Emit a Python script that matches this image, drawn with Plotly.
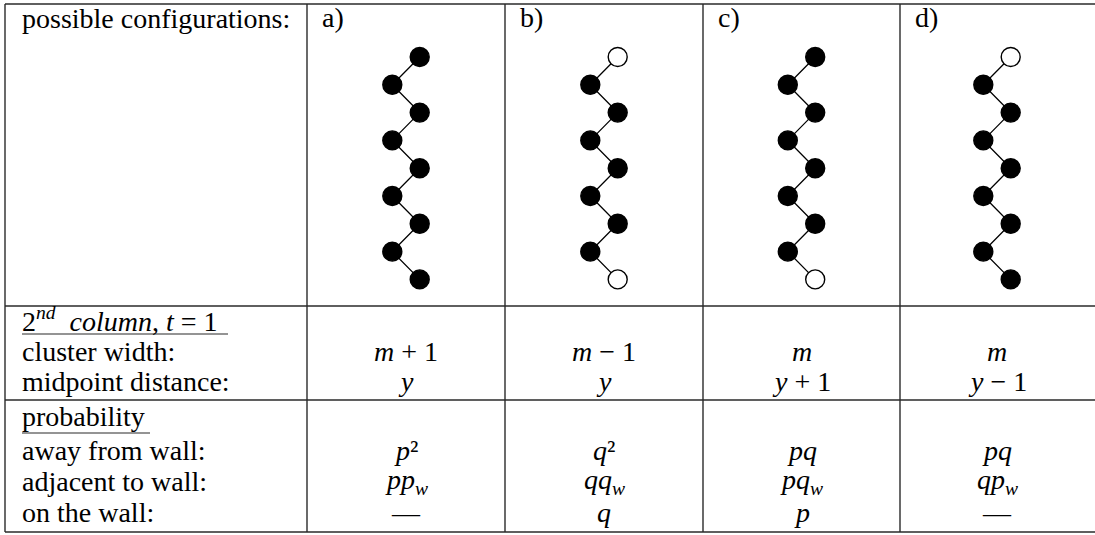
import plotly.graph_objects as go

# --- dados da tabela
configs = ['a)', 'b)', 'c)', 'd)']
top_open = [False, True, False, True]      # primeiro sítio vazio?
bottom_open = [False, True, True, False]   # último sítio vazio?
n_sites = 9

header_label = 'possible configurations:'
section2_title = '2<sup><i>nd</i></sup>  <i>column</i>, <i>t</i> = 1'
section2_labels = ['cluster width:', 'midpoint distance:']
cluster_width = ['<i>m</i> + 1', '<i>m</i> − 1', '<i>m</i>', '<i>m</i>']
midpoint = ['<i>y</i>', '<i>y</i>', '<i>y</i> + 1', '<i>y</i> − 1']

section3_title = 'probability'
section3_labels = ['away from wall:', 'adjacent to wall:', 'on the wall:']
prob_away = ['<i>p</i>²', '<i>q</i>²', '<i>pq</i>', '<i>pq</i>']
prob_adjacent = ['<i>pp</i><sub><i>w</i></sub>', '<i>qq</i><sub><i>w</i></sub>',
                 '<i>pq</i><sub><i>w</i></sub>', '<i>qp</i><sub><i>w</i></sub>']
prob_wall = ['—', '<i>q</i>', '<i>p</i>', '—']

# --- geometria (px)
W, H = 1095, 535
col_edges = [5, 307, 505, 703, 900, 1094]
row_lines = [4, 306, 400, 532]
FONT = 'Liberation Serif'
FS = 28
linecolor = '#2a2a2a'

centers = [(col_edges[i + 1] + col_edges[i + 2]) / 2 for i in range(len(configs))]

fig = go.Figure()

# zigue-zague de cada configuração
dy = 27.8
dx = 13.7
y0 = 57
for i, c in enumerate(configs):
    xs, ys, fills = [], [], []
    for k in range(n_sites):
        xs.append(centers[i] + (dx if k % 2 == 0 else -dx))
        ys.append(y0 + k * dy)
        vazio = (k == 0 and top_open[i]) or (k == n_sites - 1 and bottom_open[i])
        fills.append('white' if vazio else 'black')
    fig.add_trace(go.Scatter(x=xs, y=ys, mode='lines',
                             line=dict(color='black', width=1.3),
                             hoverinfo='skip', showlegend=False))
    fig.add_trace(go.Scatter(x=xs, y=ys, mode='markers',
                             marker=dict(size=19, color=fills,
                                         line=dict(color='black', width=1.4)),
                             hoverinfo='skip', showlegend=False))

# linhas da tabela
shapes = []
for y in row_lines:
    shapes.append(dict(type='line', x0=col_edges[0], x1=W + 2, y0=y, y1=y,
                       line=dict(color=linecolor, width=1.4)))
for x in col_edges[:-1]:
    shapes.append(dict(type='line', x0=x, x1=x, y0=row_lines[0], y1=row_lines[-1],
                       line=dict(color=linecolor, width=1.4)))
# sublinhados
shapes.append(dict(type='line', x0=22, x1=228, y0=334, y1=334,
                   line=dict(color=linecolor, width=1.2)))
shapes.append(dict(type='line', x0=22, x1=150, y0=433, y1=433,
                   line=dict(color=linecolor, width=1.2)))

annotations = []


def txt(x, y, s, anchor='left'):
    annotations.append(dict(x=x, y=y, text=s, showarrow=False, xanchor=anchor,
                            yanchor='middle', font=dict(family=FONT, size=FS, color='black')))


txt(20, 18, header_label)
for i, c in enumerate(configs):
    txt(col_edges[i + 1] + 13, 17, c)

txt(20, 319, section2_title)
sec2_y = [351, 381]
for lab, y in zip(section2_labels, sec2_y):
    txt(20, y, lab)
for i in range(len(configs)):
    txt(centers[i], sec2_y[0], cluster_width[i], 'center')
    txt(centers[i], sec2_y[1], midpoint[i], 'center')

txt(20, 416, section3_title)
sec3_y = [450, 481, 512]
for lab, y in zip(section3_labels, sec3_y):
    txt(20, y, lab)
for i in range(len(configs)):
    txt(centers[i], sec3_y[0], prob_away[i], 'center')
    txt(centers[i], sec3_y[1], prob_adjacent[i], 'center')
    txt(centers[i], sec3_y[2], prob_wall[i], 'center')

fig.update_layout(width=W, height=H, margin=dict(l=0, r=0, t=0, b=0),
                  plot_bgcolor='white', paper_bgcolor='white',
                  shapes=shapes, annotations=annotations)
fig.update_xaxes(range=[0, W], visible=False, fixedrange=True)
fig.update_yaxes(range=[H, 0], visible=False, fixedrange=True)

# sem margem do body, para a figura ocupar a janela inteira
fig.write_html("out.html", config={'displayModeBar': False},
               post_script="document.body.style.margin='0px';")
